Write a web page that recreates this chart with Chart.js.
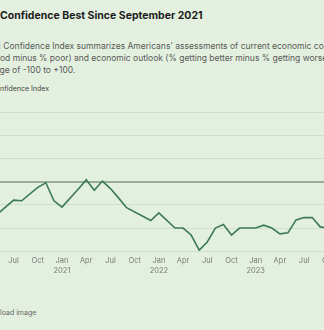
<!DOCTYPE html>
<html>
<head>
<meta charset="utf-8">
<script src="https://cdn.jsdelivr.net/npm/chart.js@4.4.1/dist/chart.umd.min.js"></script>
<style>
  html, body { margin: 0; padding: 0; }
  body {
    width: 324px; height: 330px; overflow: hidden; position: relative;
    background: #e3f0df; font-family: Inter, "Noto Sans", sans-serif;
  }
  .txt { position: absolute; white-space: nowrap; }
  .title { top: 9px; font-size: 10.5px; line-height: 13px; font-weight: 700; color: #1d1d1d; }
  .sub { font-size: 8.5px; line-height: 12px; color: #595959; }
  .axis { top: 84px; font-size: 7px; line-height: 9px; color: #454545; }
  .dl { top: 308px; font-size: 7px; line-height: 9px; color: #666; }
  #chartBox { position: absolute; left: -40px; top: 104px; width: 404px; height: 176px; }
</style>
</head>
<body>
<div class="txt title" data-x="0"><span class="pre">U.S. Economic </span>Confidence Best Since September 2021</div>
<div class="txt sub" data-x="3.3" style="top:39.6px"><span class="pre">Gallup's Economic </span>Confidence Index summarizes Americans' assessments of current economic conditions</div>
<div class="txt sub" data-x="0" style="top:51.9px"><span class="pre">(% excellent/go</span>od minus % poor) and economic outlook (% getting better minus % getting worse). It has</div>
<div class="txt sub" data-x="-0.5" style="top:63.6px"><span class="pre">ran</span>ge of -100 to +100.</div>
<div class="txt axis" data-x="0"><span class="pre">Economic Co</span>nfidence Index</div>
<div class="txt dl" data-x="0"><span class="pre">Down</span>load image</div>
<div id="chartBox"><canvas id="chart"></canvas></div>
<script>
// Gallup Economic Confidence Index, monthly readings
const months = [
  "2020-05", "2020-07", "2020-08", "2020-10", "2020-11", "2020-12",
  "2021-01", "2021-03", "2021-04", "2021-05", "2021-06", "2021-07", "2021-08", "2021-09", "2021-12",
  "2022-01", "2022-03", "2022-04", "2022-05", "2022-06", "2022-07", "2022-08", "2022-09", "2022-10", "2022-11",
  "2023-01", "2023-02", "2023-03", "2023-04", "2023-05", "2023-06", "2023-07", "2023-08", "2023-09", "2023-10"
];
const confidence = [
  -28, -16, -16.5, -5, -1, -16.5,
  -22, -6.5, 1.5, -7.5, 0.5, -6, -14, -22.5, -33.5,
  -27, -40, -40, -46, -59, -52, -40, -37, -46, -40,
  -40, -37.5, -40, -45, -44, -33, -31, -31, -39, -40
];
const tickMonths = ["2020-04", "2020-07", "2020-10", "2021-01", "2021-04", "2021-07", "2021-10",
  "2022-01", "2022-04", "2022-07", "2022-10", "2023-01", "2023-04", "2023-07", "2023-10"];
const tickLabels = ["Apr", "Jul", "Oct", ["Jan", "2021"], "Apr", "Jul", "Oct",
  ["Jan", "2022"], "Apr", "Jul", "Oct", ["Jan", "2023"], "Apr", "Jul", "Oct"];
const yTicks = [-60, -40, -20, 0, 20, 40, 60];

// months since Jan 2021
const monthIndex = (s) => {
  const [y, m] = s.split("-").map(Number);
  return (y - 2021) * 12 + (m - 1);
};

// the page is a crop: shift each text so its visible part starts at data-x
document.querySelectorAll(".txt").forEach((el) => {
  const pre = el.querySelector(".pre");
  const w = pre ? pre.getBoundingClientRect().width : 0;
  el.style.left = `${Number(el.dataset.x) - w}px`;
});

const tickValues = tickMonths.map(monthIndex);

new Chart(document.getElementById("chart"), {
  type: "line",
  data: {
    datasets: [{
      data: months.map((m, i) => ({ x: monthIndex(m), y: confidence[i] })),
      borderColor: "#3b7a54",
      borderWidth: 1.6,
      pointRadius: 0,
      tension: 0,
      fill: false,
    }],
  },
  options: {
    responsive: true,
    maintainAspectRatio: false,
    animation: false,
    layout: { padding: { top: 8, left: 0, right: 0, bottom: 0 } },
    plugins: { legend: { display: false }, tooltip: { enabled: false } },
    scales: {
      x: {
        type: "linear",
        min: -12.64,
        max: 37.42,
        grid: { display: false, drawTicks: false },
        border: { display: false },
        afterBuildTicks: (scale) => { scale.ticks = tickValues.map((v) => ({ value: v })); },
        ticks: {
          autoSkip: false,
          maxRotation: 0,
          padding: 5,
          color: "#7a7a7a",
          font: { family: "Inter", size: 7.5, lineHeight: 1.25 },
          callback: (value) => tickLabels[tickValues.indexOf(value)] ?? "",
        },
      },
      y: {
        min: -60,
        max: 60,
        afterBuildTicks: (scale) => { scale.ticks = yTicks.map((v) => ({ value: v })); },
        ticks: { display: false },
        border: { display: false },
        grid: {
          drawTicks: false,
          color: (ctx) => (ctx.tick && ctx.tick.value === 0 ? "#9aab96" : "#d0e0cc"),
          lineWidth: (ctx) => (ctx.tick && ctx.tick.value === 0 ? 2 : 1),
        },
      },
    },
  },
});
</script>
</body>
</html>
